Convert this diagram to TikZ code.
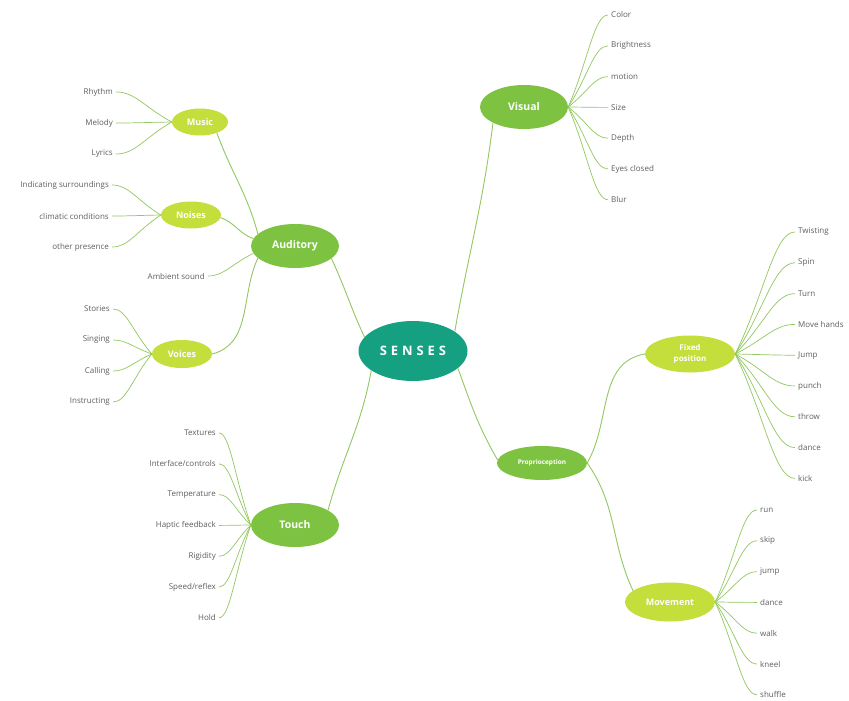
\documentclass[tikz,border=0pt]{standalone}
\usepackage{fontspec}
\setmainfont{Open Sans}
\usepackage{xcolor}
\usepackage{tikz}
\usetikzlibrary{shapes.geometric, calc}
\definecolor{sensesteal}{RGB}{22, 160, 130}
\definecolor{branchgreen}{RGB}{126, 194, 66}
\definecolor{subgreen}{RGB}{196, 222, 60}
\definecolor{twiggreen}{RGB}{146, 200, 96}
\definecolor{leafgray}{RGB}{95, 95, 95}
\newfontfamily\spacedfont[LetterSpace=30]{Open Sans}
\tikzstyle{hub} = [
    ellipse,
    fill=sensesteal,
    text=white,
    minimum width=109pt,
    minimum height=60pt,
    inner sep=0pt,
    font=\spacedfont\fontsize{13}{15}\selectfont\bfseries
]
\tikzstyle{branch} = [
    ellipse,
    fill=branchgreen,
    text=white,
    minimum width=88pt,
    minimum height=44pt,
    inner sep=0pt,
    font=\fontsize{10.5}{12}\selectfont\bfseries
]
\tikzstyle{subbranch} = [
    ellipse,
    fill=subgreen,
    text=white,
    inner sep=0pt,
    align=center,
    font=\fontsize{9}{11}\selectfont\bfseries
]
\tikzstyle{leaf} = [
    inner xsep=3pt,
    inner ysep=1pt,
    text=leafgray,
    font=\fontsize{8}{9}\selectfont
]
\tikzstyle{link} = [
    draw=twiggreen,
    line width=0.9pt
]
\tikzstyle{twig} = [
    draw=twiggreen,
    line width=0.7pt,
    to path={.. controls ($(\tikztostart)!0.5!(\tikztotarget)$) and ($(\tikztotarget)!0.35!(\tikztostart |- \tikztotarget)$) .. (\tikztotarget) \tikztonodes}
]

\begin{document}
\begin{tikzpicture}[x=1pt, y=1pt]
        \fill[white] (0,0) rectangle (849,-701);
        \useasboundingbox (0,0) rectangle (849,-701);

        % Centre and main branches
        \node[hub] (senses) at (413,-351) {SENSES};
        \node[branch] (visual) at (524,-107) {Visual};
        \node[branch] (auditory) at (295,-246) {Auditory};
        \node[branch] (touch) at (295,-525) {Touch};
        \node[branch, minimum width=90pt, minimum height=34pt, font=\fontsize{6.5}{8}\selectfont\bfseries] (proprio) at (542,-463) {Proprioception};

        % Sub branches
        \node[subbranch, minimum width=56pt, minimum height=27pt] (music) at (200,-122) {Music};
        \node[subbranch, minimum width=60pt, minimum height=27pt] (noises) at (191,-215) {Noises};
        \node[subbranch, minimum width=60pt, minimum height=28pt] (voices) at (182,-354) {Voices};
        \node[subbranch, minimum width=90pt, minimum height=37pt, font=\fontsize{8}{11}\selectfont\bfseries] (fixed) at (690,-354) {Fixed\\position};
        \node[subbranch, minimum width=90pt, minimum height=39pt] (movement) at (670,-602) {Movement};

        % Links
        \draw[link] (senses.25) to[out=80, in=-97] (visual.207);
        \draw[link] (senses.164) to[out=115, in=-65] (auditory.-19);
        \draw[link] (senses.205) to[out=-100, in=75] (touch.24);
        \draw[link] (senses.-21) to[out=-70, in=120] (proprio.176);
        \draw[link] (proprio.east) to[out=60, in=190] (fixed.west);
        \draw[link] (proprio.east) to[out=-55, in=115] (movement.163);
        \draw[link] (auditory.162) to[out=105, in=-70] (music.-33);
        \draw[link] (auditory.170) to[out=160, in=-20] (noises.-5);
        \draw[link] (auditory.198) to[out=-115, in=15] (voices.east);

        % Visual leaves
        \foreach \txt [count=\i] in {Color, Brightness, motion, Size, Depth, Eyes closed, Blur} {
            \node[leaf, anchor=west] (vis\i) at (608, {-15-30.8*(\i-1)}) {\txt};
            \draw[twig] (visual.east) to (vis\i.west);
        }

        % Fixed position leaves
        \foreach \txt [count=\i] in {Twisting, Spin, Turn, Move hands, Jump, punch, throw, dance, kick} {
            \node[leaf, anchor=west] (fix\i) at (795, {-232-30.8*(\i-1)}) {\txt};
            \draw[twig] (fixed.east) to (fix\i.west);
        }

        % Movement leaves
        \foreach \txt [count=\i] in {run, skip, jump, dance, walk, kneel, shuffle} {
            \node[leaf, anchor=west] (mov\i) at (757, {-510-30.8*(\i-1)}) {\txt};
            \draw[twig] (movement.east) to (mov\i.west);
        }

        % Music leaves
        \foreach \txt [count=\i] in {Rhythm, Melody, Lyrics} {
            \node[leaf, anchor=east] (mus\i) at (116, {-92-31*(\i-1)}) {\txt};
            \draw[twig] (music.west) to (mus\i.east);
        }

        % Noises leaves
        \foreach \txt [count=\i] in {Indicating surroundings, climatic conditions, other presence} {
            \node[leaf, anchor=east] (noi\i) at (112, {-185-31*(\i-1)}) {\txt};
            \draw[twig] (noises.west) to (noi\i.east);
        }

        % Ambient sound
        \node[leaf, anchor=east] (ambient) at (208,-276) {Ambient sound};
        \draw[twig] (auditory.190) to (ambient.east);

        % Voices leaves
        \foreach \txt [count=\i] in {Stories, Singing, Calling, Instructing} {
            \node[leaf, anchor=east] (voi\i) at (113, {-309-31*(\i-1)}) {\txt};
            \draw[twig] (voices.west) to (voi\i.east);
        }

        % Touch leaves
        \foreach \txt [count=\i] in {Textures, Interface/controls, Temperature, Haptic feedback, Rigidity, Speed/reflex, Hold} {
            \node[leaf, anchor=east] (tou\i) at (219, {-433-30.8*(\i-1)}) {\txt};
            \draw[twig] (touch.west) to (tou\i.east);
        }
    \end{tikzpicture}
\end{document}
